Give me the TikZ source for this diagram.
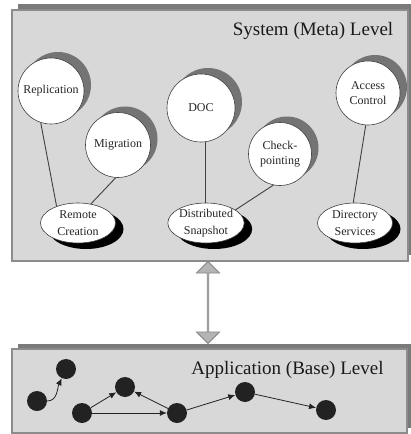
\documentclass[tikz,border=0pt]{standalone}
\usepackage{fontspec}
\setmainfont{Liberation Serif}
\usetikzlibrary{shapes.geometric,shapes.arrows,shadows,arrows.meta}
\definecolor{boxfill}{HTML}{D8D8D8}
\definecolor{boxline}{HTML}{8C8C8C}
\definecolor{boxshadow}{HTML}{7A7A7A}
\definecolor{circshadow}{HTML}{747474}
\definecolor{dotcol}{HTML}{222222}
\definecolor{arrfill}{HTML}{B4B4B4}
\definecolor{arrline}{HTML}{858585}
\tikzset{
  levelbox/.style={draw=boxline, line width=1.2pt, fill=boxfill},
  levelshadow/.style={fill=boxshadow, draw=none},
  leveltitle/.style={font=\fontsize{19}{22}\selectfont, text=black!90, anchor=base, inner sep=0},
  topic/.style={circle, draw=black!75, line width=0.6pt, fill=white, inner sep=0,
    minimum size=#1, align=center, font=\fontsize{12}{15}\selectfont, text=black!85,
    drop shadow={shadow xshift=7pt, shadow yshift=6pt, fill=circshadow, opacity=1}},
  service/.style={ellipse, draw=black!75, line width=0.6pt, fill=white, inner sep=0,
    minimum width=75pt, minimum height=40pt, align=center,
    font=\fontsize{12}{17}\selectfont, text=black!85,
    drop shadow={shadow xshift=8pt, shadow yshift=-6pt, fill=black, opacity=1}},
  tie/.style={draw=black!75, line width=0.9pt},
  obj/.style={circle, fill=dotcol, draw=none, minimum size=20pt, inner sep=0},
  msg/.style={draw=dotcol, line width=0.8pt, -{Latex[length=7pt,width=6pt]}},
}
\begin{document}
\begin{tikzpicture}[x=1pt,y=-1pt]
\useasboundingbox (0,0) rectangle (411,434);
% top level box
\fill[levelshadow] (18,4) rectangle (414,255);
\node[levelbox, minimum width=396pt, minimum height=251pt, inner sep=0] (meta) at (210,135.5) {};
\node[leveltitle] (metatitle) at (313,35) {System (Meta) Level};
% bottom level box
\fill[levelshadow] (18,344) rectangle (414,428);
\node[levelbox, minimum width=395pt, minimum height=84pt, inner sep=0] (base) at (209.5,391) {};
\node[leveltitle] (basetitle) at (287.5,374) {Application (Base) Level};
% double arrow
\node[double arrow, draw=arrline, fill=arrfill, line width=0.8pt, rotate=90,
      minimum height=82pt, minimum width=23pt, double arrow head extend=6pt,
      inner sep=0] (link) at (208,302.5) {};
% topics
\node[topic=66pt] (rep) at (51,91) {Replication};
\node[topic=65pt] (mig) at (118,145) {Migration};
\node[topic=68pt] (doc) at (201,108) {DOC};
\node[topic=63pt] (chk) at (280,154) {Check-\\pointing};
\node[topic=64pt] (acc) at (368,93) {Access\\Control};
% services
\node[service] (rc) at (78,223) {Remote\\Creation};
\node[service] (ds) at (206,223) {Distributed\\Snapshot};
\node[service] (dir) at (355,223) {Directory\\Services};
% ties
\draw[tie] (rep.252) -- (rc.142);
\draw[tie] (mig.266) -- (rc.56);
\draw[tie] (ds.north -| doc.278) -- (doc.278);
\draw[tie] (chk.258) -- (ds.24);
\draw[tie] (acc.266) -- (dir.95);
% base objects
\node[obj] (a) at (66,369) {};
\node[obj] (b) at (37,401) {};
\node[obj] (c) at (125,387) {};
\node[obj] (d) at (82,413) {};
\node[obj] (e) at (177,413) {};
\node[obj] (f) at (245,392) {};
\node[obj] (g) at (326,410) {};
\draw[msg] (b) to[out=0,in=245] (a);
\draw[msg] (d) -- (c);
\draw[msg] (e) -- (c);
\draw[msg] (d) -- (e);
\draw[msg] (e) -- (f);
\draw[msg] (f) -- (g);
\end{tikzpicture}
\end{document}
